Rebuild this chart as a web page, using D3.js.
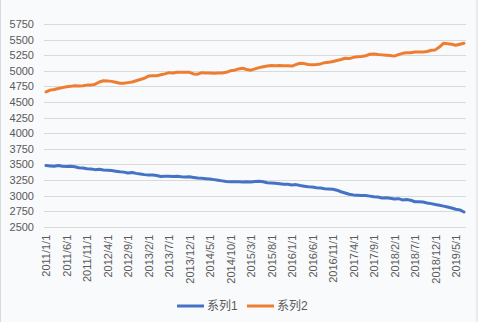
<!DOCTYPE html>
<html><head><meta charset="utf-8">
<script src="https://cdn.jsdelivr.net/npm/d3@7"></script>
<style>
body{margin:0;background:#fff;}
svg{display:block;}
text{font-family:"Liberation Sans","Noto Sans CJK SC",sans-serif;fill:#595959;}
</style></head>
<body>
<svg id="c" width="481" height="322"></svg>
<script>
const startYear = 2011, startMonth = 1, monthCount = 103;
const series1 = [3480,3475,3470,3480,3470,3465,3470,3460,3445,3440,3430,3425,3415,3420,3410,3405,3400,3390,3380,3375,3360,3370,3355,3345,3335,3330,3330,3320,3305,3310,3310,3305,3310,3300,3295,3300,3290,3280,3275,3270,3265,3255,3245,3235,3225,3220,3220,3220,3218,3220,3215,3225,3230,3220,3205,3200,3195,3190,3180,3180,3170,3175,3160,3150,3140,3135,3125,3120,3110,3105,3100,3085,3060,3040,3020,3010,3005,3000,3000,2990,2980,2975,2960,2965,2955,2945,2950,2930,2935,2925,2900,2900,2895,2880,2870,2855,2845,2830,2815,2800,2780,2770,2735];
const series2 = [4660,4690,4700,4715,4730,4745,4750,4760,4755,4760,4770,4770,4785,4820,4840,4838,4830,4815,4800,4800,4810,4820,4840,4860,4880,4915,4920,4920,4935,4950,4970,4965,4975,4975,4975,4975,4950,4945,4970,4965,4965,4960,4965,4965,4975,5000,5010,5030,5040,5020,5010,5030,5050,5065,5075,5085,5080,5085,5080,5080,5075,5100,5120,5115,5100,5095,5100,5110,5130,5135,5150,5165,5180,5200,5195,5215,5225,5230,5240,5265,5270,5260,5255,5250,5245,5235,5260,5280,5290,5290,5300,5300,5300,5310,5330,5335,5380,5440,5435,5425,5410,5425,5440];
const seriesNames = ["系列1","系列2"];
const yTicks = [2500,2750,3000,3250,3500,3750,4000,4250,4500,4750,5000,5250,5500,5750];
const colors = ["#4472C4","#ED7D31"];

const categories = d3.range(monthCount).map(i => {
  const m = startMonth - 1 + i;
  return (startYear + Math.floor(m/12)) + "/" + (m%12 + 1) + "/1";
});

const svg = d3.select("#c");
svg.append("rect").attr("x",0.5).attr("y",-2).attr("width",476.5).attr("height",330)
  .attr("fill","#f9fafc").attr("stroke","#d9d9d9");

const pLeft = 44, pRight = 466, pTop = 24, pBottom = 226.7;
const x = d3.scalePoint().domain(categories).range([pLeft, pRight]).padding(0.5);
const y = d3.scaleLinear().domain([2500,5750]).range([pBottom, pTop]);

// grid
svg.append("g").selectAll("line").data(yTicks).join("line")
  .attr("x1",pLeft).attr("x2",pRight)
  .attr("y1",d=>Math.round(y(d))+0.5).attr("y2",d=>Math.round(y(d))+0.5)
  .attr("stroke","#d9d9d9").attr("stroke-width",1);

// y axis labels
const yAxis = d3.axisLeft(y).tickValues(yTicks).tickSize(0).tickPadding(0).tickFormat(d3.format("d"));
const gy = svg.append("g").attr("transform",`translate(${pLeft-10},0)`).call(yAxis);
gy.select(".domain").remove();
gy.selectAll("text").style("font-size","11px").attr("fill","#595959");

// x axis labels
const xLabels = categories.filter((d,i)=>i%5===0);
const xAxis = d3.axisBottom(x).tickValues(xLabels).tickSize(0).tickPadding(0);
const gx = svg.append("g").attr("transform",`translate(0,${pBottom})`).call(xAxis);
gx.select(".domain").remove();
gx.selectAll("text").style("font-size","11px").attr("fill","#595959")
  .attr("text-anchor","end").attr("dy","0.35em")
  .attr("transform","translate(0,8) rotate(-90)").attr("x",0).attr("y",0);

// lines
const line = d3.line().x((d,i)=>x(categories[i])).y(d=>y(d)).curve(d3.curveLinear);
[series1, series2].forEach((s,k)=>{
  svg.append("path").datum(s).attr("d",line).attr("fill","none")
    .attr("stroke",colors[k]).attr("stroke-width",3).attr("stroke-linejoin","round").attr("stroke-linecap","round");
});

// legend
const lg = svg.append("g");
const legX = [177, 247];
seriesNames.forEach((n,k)=>{
  lg.append("line").attr("x1",legX[k]).attr("x2",legX[k]+27).attr("y1",306).attr("y2",306)
    .attr("stroke",colors[k]).attr("stroke-width",3);
  lg.append("text").attr("x",legX[k]+30).attr("y",306).attr("dy","0.35em")
    .style("font-size","12px").text(n);
});
</script>
</body></html>
